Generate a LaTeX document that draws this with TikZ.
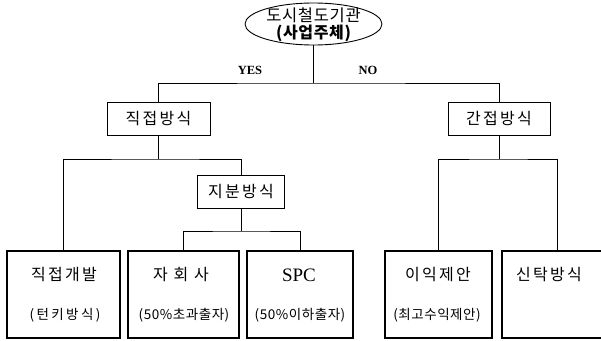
\documentclass[tikz,border=0pt]{standalone}
\usepackage{fontspec}
\usetikzlibrary{shapes.geometric}
\newfontfamily\kr{Noto Sans CJK KR}
\newfontfamily\krs[LetterSpace=14]{Noto Sans CJK KR}
\newfontfamily\krm[LetterSpace=4]{Noto Sans CJK KR}
\newfontfamily\krw[LetterSpace=18]{Noto Sans CJK KR}
\newfontfamily\serifen{Liberation Serif}
\begin{document}
\begin{tikzpicture}[x=1pt,y=-1pt,
  thinbox/.style={draw,line width=0.9pt,inner sep=0pt},
  thickbox/.style={draw,line width=2pt,inner sep=0pt,minimum height=87pt},
  conn/.style={line width=0.9pt},
  big/.style={font=\krs\fontsize{16}{18}\selectfont,inner sep=0pt},
  small/.style={font=\krm\fontsize{13.5}{15}\selectfont,inner sep=0pt}]
\useasboundingbox (0,0) rectangle (601,340);
% root
\node[ellipse,draw,line width=0.9pt,minimum width=137pt,minimum height=42pt,inner sep=0pt] (root) at (313.5,24) {};
\node[font=\krm\fontsize{16.5}{18}\selectfont,inner sep=0pt] (r1) at (313.5,15) {도시철도기관};
\node[font=\krm\bfseries\fontsize{16}{18}\selectfont,inner sep=0pt] (r2) at (313.5,33) {(사업주체)};
\node[font=\serifen\bfseries\fontsize{12.5}{14}\selectfont,inner sep=0pt] (yes) at (250,70) {YES};
\node[font=\serifen\bfseries\fontsize{12.5}{14}\selectfont,inner sep=0pt] (no) at (368,70) {NO};
% level 2
\node[thinbox,minimum width=103pt,minimum height=33pt] (direct) at (158.5,118.5) {};
\node[big] at (direct) {직접방식};
\node[thinbox,minimum width=102pt,minimum height=33pt] (indirect) at (499,118.5) {};
\node[big] at (indirect) {간접방식};
\node[thinbox,minimum width=87pt,minimum height=33pt] (equity) at (241,191.5) {};
\node[big] at (equity) {지분방식};
% bottom boxes
\node[thickbox,minimum width=113pt] (b1) at (63.5,294.5) {};
\node[thickbox,minimum width=111pt] (b2) at (183.5,294.5) {};
\node[thickbox,minimum width=106pt] (b3) at (300,294.5) {};
\node[thickbox,minimum width=107pt] (b4) at (438.5,294.5) {};
\node[thickbox,minimum width=110pt] (b5) at (557,294.5) {};
\node[big] (t1a) at (64,275) {직접개발};
\node[font=\krw\fontsize{13.5}{15}\selectfont,inner sep=0pt] (t1b) at (65,315) {(턴키방식)};
\node[big] (t2a) at (181,275) {자 회 사};
\node[small] (t2b) at (184,315) {(50\%초과출자)};
\node[font=\serifen\fontsize{19}{21}\selectfont,inner sep=0pt] (t3a) at (299,275) {SPC};
\node[small] (t3b) at (300,315) {(50\%이하출자)};
\node[big] (t4a) at (438,275) {이익제안};
\node[small] (t4b) at (437,315) {(최고수익제안)};
\node[big] (t5a) at (549,275) {신탁방식};
% connectors
\coordinate (top) at (313.5,83);
\coordinate (dj) at (158.5,159);
\coordinate (ej) at (241,231);
\coordinate (ij) at (499,159);
\draw[conn] (root.south) -- (top);
\draw[conn] (direct.north) |- (top) -| (indirect.north);
\draw[conn] (direct.south) -- (dj);
\draw[conn] (b1.north) |- (dj) -| (equity.north);
\draw[conn] (equity.south) -- (ej);
\draw[conn] (b2.north) |- (ej) -| (b3.north);
\draw[conn] (indirect.south) -- (ij);
\draw[conn] (b4.north) |- (ij) -| (b5.north);
\end{tikzpicture}
\end{document}
